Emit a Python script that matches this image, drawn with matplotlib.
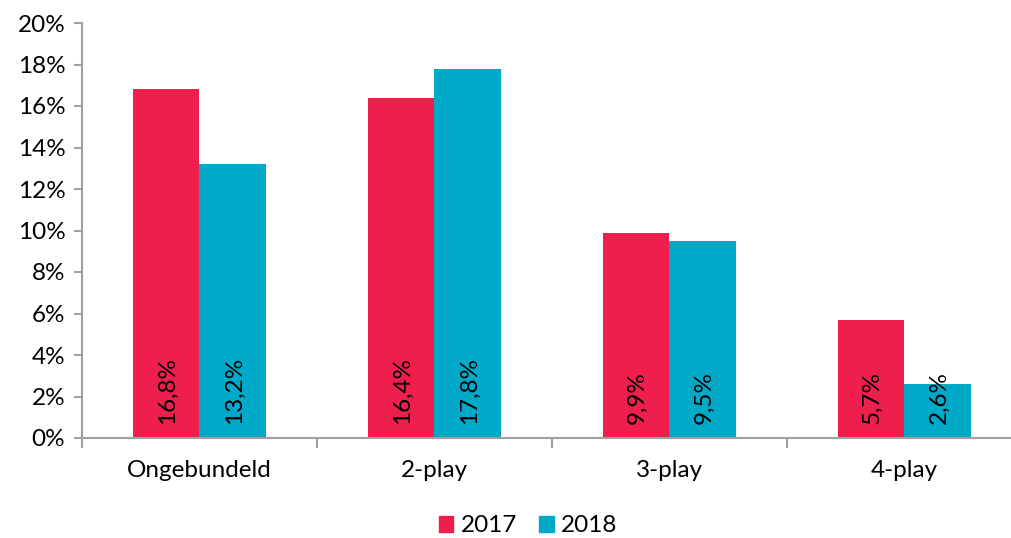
import matplotlib
matplotlib.use("Agg")
import matplotlib.pyplot as plt
import numpy as np
from matplotlib.ticker import FuncFormatter
from matplotlib.patches import Patch

categories = ["Ongebundeld", "2-play", "3-play", "4-play"]
series_names = ["2017", "2018"]
values_2017 = [16.8, 16.4, 9.9, 5.7]
values_2018 = [13.2, 17.8, 9.5, 2.6]
labels_2017 = ["16,8%", "16,4%", "9,9%", "5,7%"]
labels_2018 = ["13,2%", "17,8%", "9,5%", "2,6%"]

c17 = "#EE1F4D"
c18 = "#00A9C8"
FS = 17.5

plt.rcParams['font.family'] = ['Lato', 'DejaVu Sans']

fig = plt.figure(figsize=(10.12, 5.38), dpi=100)
ax = fig.add_axes([82/1012, 100/538, 940/1012, 415/538])

x = np.arange(len(categories))
w = 0.285
b1 = ax.bar(x - w/2, values_2017, w, color=c17)
b2 = ax.bar(x + w/2, values_2018, w, color=c18)

for bars, labs in ((b1, labels_2017), (b2, labels_2018)):
    for bar, lab in zip(bars, labs):
        ax.annotate(lab, (bar.get_x() + bar.get_width()/2, 0),
                    xytext=(1, 14), textcoords='offset pixels',
                    rotation=90, ha='center', va='bottom', fontsize=FS, color='black')

ax.set_xlim(-0.5, len(categories) - 0.5)
ax.set_ylim(0, 20)
ax.set_yticks(np.arange(0, 21, 2))
ax.yaxis.set_major_formatter(FuncFormatter(lambda v, p: f"{int(round(v))}%"))
ax.set_xticks(x)
ax.set_xticklabels(categories)
ax.set_xticks(np.arange(-0.5, len(categories), 1), minor=True)
ax.tick_params(axis='x', which='major', length=0, pad=16, labelsize=FS)
ax.tick_params(axis='x', which='minor', length=7, width=1.5, color='#A0A0A0', direction='out')
ax.tick_params(axis='y', length=6, width=1.5, color='#A0A0A0', labelsize=FS, pad=6)

for s in ['top', 'right']:
    ax.spines[s].set_visible(False)
for s in ['left', 'bottom']:
    ax.spines[s].set_color('#A0A0A0')
    ax.spines[s].set_linewidth(1.5)

handles = [Patch(color=c17, label=series_names[0]), Patch(color=c18, label=series_names[1])]
fig.legend(handles=handles, loc='center', bbox_to_anchor=(528/1012, 1 - 526/538),
           ncol=2, frameon=False, fontsize=FS, handlelength=0.6, handleheight=0.6,
           handletextpad=0.3, columnspacing=0.9)

fig.savefig("out.png", dpi=100)
